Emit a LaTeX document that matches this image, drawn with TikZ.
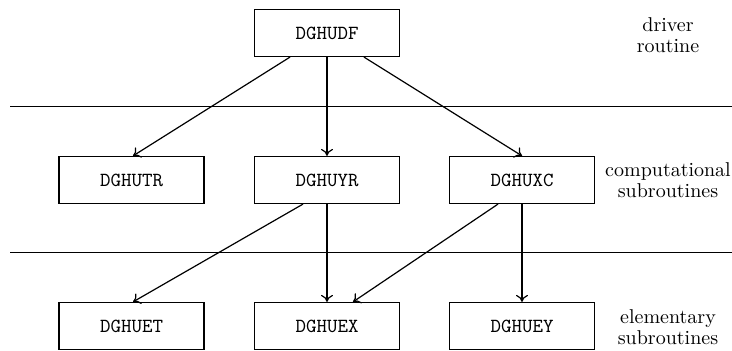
\documentclass[tikz,border=0pt]{standalone}
\usetikzlibrary{arrows.meta}
\begin{document}
\begin{tikzpicture}[x=1pt,y=1pt,
  routine/.style={draw,line width=0.6pt,minimum width=72.5pt,minimum height=23.5pt,inner sep=0pt,font=\ttfamily},
  level/.style={align=center,font={\fontsize{10}{10.5}\selectfont}},
  conn/.style={-{To[length=3.5pt,width=6pt]},line width=0.6pt},
  sep/.style={line width=0.6pt}]
\useasboundingbox (0,0) rectangle (366,175.5);
% boxes
\node[routine] (udf) at (163.5,159) {DGHUDF};
\node[routine] (utr) at (65.75,85.5) {DGHUTR};
\node[routine] (uyr) at (163.5,85.5) {DGHUYR};
\node[routine] (uxc) at (261,85.5) {DGHUXC};
\node[routine] (uet) at (65.75,12.5) {DGHUET};
\node[routine] (uex) at (163.5,12.5) {DGHUEX};
\node[routine] (uey) at (261,12.5) {DGHUEY};
% level labels
\node[level] (lab1) at (334,158) {driver\\routine};
\node[level] (lab2) at (334,85.5) {computational\\subroutines};
\node[level] (lab3) at (334,12) {elementary\\subroutines};
% separators
\coordinate (s1a) at (5,122.15);
\coordinate (s1b) at (366,122.15);
\coordinate (s2a) at (5,49.15);
\coordinate (s2b) at (366,49.15);
\draw[sep] (s1a) -- (s1b);
\draw[sep] (s2a) -- (s2b);
% connectors
\draw[conn] ([xshift=-18.5pt]udf.south) -- ([xshift=0.75pt]utr.north);
\draw[conn] (udf.south) -- (uyr.north);
\draw[conn] ([xshift=18.5pt]udf.south) -- (uxc.north);
\draw[conn] ([xshift=-12pt]uyr.south) -- ([xshift=0.75pt]uet.north);
\draw[conn] (uyr.south) -- (uex.north);
\draw[conn] ([xshift=-12pt]uxc.south) -- ([xshift=13pt]uex.north);
\draw[conn] (uxc.south) -- (uey.north);
\end{tikzpicture}
\end{document}
